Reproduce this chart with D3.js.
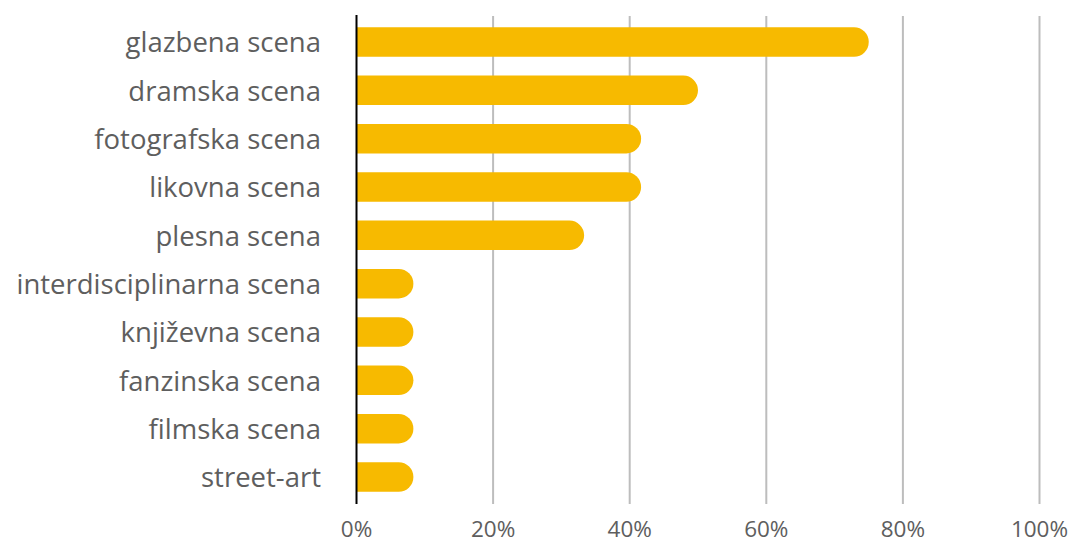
<!DOCTYPE html>
<html><head><meta charset="utf-8">
<script src="https://cdn.jsdelivr.net/npm/d3@7"></script>
<style>body{margin:0;background:#fff}</style>
</head><body>
<svg id="c" width="1074" height="543"></svg>
<script>
const categories = ["glazbena scena","dramska scena","fotografska scena","likovna scena","plesna scena","interdisciplinarna scena","književna scena","fanzinska scena","filmska scena","street-art"];
const values = [75, 50, 41.67, 41.67, 33.33, 8.33, 8.33, 8.33, 8.33, 8.33];
const tickValues = [0,20,40,60,80,100];
const tickLabels = ["0%","20%","40%","60%","80%","100%"];

const svg = d3.select("#c");
const x = d3.scaleLinear().domain([0,100]).range([356.5,1039.5]);
const y = d3.scaleBand().domain(categories).range([17.8,501.2]).paddingInner(0.39).paddingOuter(0.195);
const font = "'Open Sans', sans-serif";

svg.append("g").selectAll("line").data(tickValues.slice(1)).join("line")
  .attr("x1",d=>x(d)).attr("x2",d=>x(d)).attr("y1",16).attr("y2",504)
  .attr("stroke","#bdbdbd").attr("stroke-width",2);

const h = y.bandwidth(), r = h/2;
svg.append("g").selectAll("path").data(categories).join("path")
  .attr("fill","#F7BA00")
  .attr("d",(c,i)=>{
    const x0 = x(0), x1 = x(values[i]), y0 = y(c);
    return `M${x0},${y0}H${x1-r}A${r},${r} 0 0 1 ${x1},${y0+r}A${r},${r} 0 0 1 ${x1-r},${y0+h}H${x0}Z`;
  });

svg.append("line").attr("x1",x(0)).attr("x2",x(0)).attr("y1",15).attr("y2",504)
  .attr("stroke","#000").attr("stroke-width",2);

svg.append("g").selectAll("text").data(categories).join("text")
  .attr("x",321).attr("y",c=>y(c)+h/2).attr("dy","0.38em")
  .attr("text-anchor","end").attr("fill","#5e5e5e")
  .style("font-family",font).style("font-size","27.5px").text(c=>c);

svg.append("g").selectAll("text").data(tickValues).join("text")
  .attr("x",d=>x(d)).attr("y",536.5).attr("text-anchor","middle").attr("fill","#5e5e5e")
  .style("font-family",font).style("font-size","22.5px").text((d,i)=>tickLabels[i]);
</script>
</body></html>
